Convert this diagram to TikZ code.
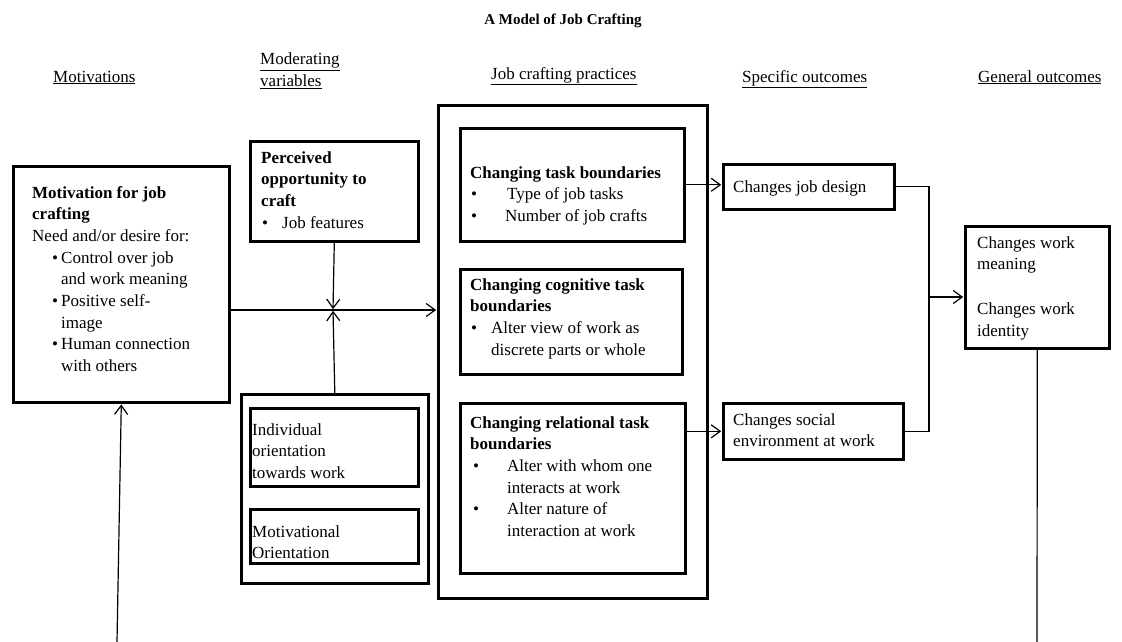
\documentclass[tikz,border=0pt]{standalone}
\usepackage{fontspec}
\setmainfont{Liberation Serif}
\usetikzlibrary{arrows.meta}
% bullet at offset #1, item text starting #2 further right
\newcommand\bul[2]{\hspace*{#1pt}\makebox[#2pt][l]{\textbullet}}
\newcommand\blk[1]{\parbox[t]{320pt}{\raggedright #1}}
\begin{document}
\begin{tikzpicture}[x=1pt,y=-1pt,
  every node/.style={font=\fontsize{17}{21.7}\selectfont},
  box/.style={draw, line width=2.6pt, anchor=north west, inner sep=0pt},
  txt/.style={anchor=base west, inner sep=0pt},
  link/.style={line width=1.2pt},
  arr/.style={link, shorten >=0.8pt, -{Straight Barb[length=9pt,width=13pt]}}]
\useasboundingbox (0,0) rectangle (1122,642);

% title and column headings
\node[anchor=base, inner sep=0pt, font=\fontsize{15}{18}\selectfont\bfseries] (title) at (563,25) {A Model of Job Crafting};
\node[txt] (h1) at (53,82) {\underline{Motivations}};
\node[txt] (h2) at (260,65) {\blk{\underline{Moderating}\\\underline{variables}}};
\node[txt] (h3) at (491,79) {\underline{Job crafting practices}};
\node[txt] (h4) at (742,82) {\underline{Specific outcomes}};
\node[txt] (h5) at (978,82) {\underline{General outcomes}};

% boxes
\node[box, minimum width=216pt, minimum height=236pt] (mot) at (12,165) {};
\node[box, minimum width=168pt, minimum height=100pt] (perc) at (249,140) {};
\node[box, minimum width=187pt, minimum height=189pt] (mod) at (240,393) {};
\node[box, minimum width=168pt, minimum height=78pt] (ind) at (249,407) {};
\node[box, minimum width=168pt, minimum height=54pt] (mtv) at (249,508) {};
\node[box, minimum width=269pt, minimum height=493pt] (jc) at (437,104) {};
\node[box, minimum width=224pt, minimum height=113pt] (task) at (459,127) {};
\node[box, minimum width=222pt, minimum height=105pt] (cog) at (459,268) {};
\node[box, minimum width=225pt, minimum height=170pt] (rel) at (459,402) {};
\node[box, minimum width=171pt, minimum height=45pt] (jd) at (722,163) {};
\node[box, minimum width=180pt, minimum height=56pt] (soc) at (722,402) {};
\node[box, minimum width=144pt, minimum height=122pt] (gen) at (964,225) {};

% box contents
\node[txt] (mot-t) at ([shift={(20,33)}]mot.north west) {\blk{%
  \textbf{Motivation for job}\\
  \textbf{crafting}\\
  Need and/or desire for:\\
  \bul{20}{9}Control over job\\
  \hspace*{29pt}and work meaning\\
  \bul{20}{9}Positive self-\\
  \hspace*{29pt}image\\
  \bul{20}{9}Human connection\\
  \hspace*{29pt}with others}};
\node[txt] (perc-t) at ([shift={(12,23)}]perc.north west) {\blk{%
  \textbf{Perceived}\\
  \textbf{opportunity to}\\
  \textbf{craft}\\
  \bul{1}{20}Job features}};
\node[txt] (ind-t) at ([shift={(3,28)}]ind.north west) {\blk{Individual\\orientation\\towards work}};
\node[txt] (mtv-t) at ([shift={(3,29)}]mtv.north west) {\blk{Motivational\\Orientation}};
\node[txt] (task-t) at ([shift={(11,51)}]task.north west) {\blk{%
  \textbf{Changing task boundaries}\\
  \bul{1}{36}Type of job tasks\\
  \bul{1}{34}Number of job crafts}};
\node[txt] (cog-t) at ([shift={(11,22)}]cog.north west) {\blk{%
  \textbf{Changing cognitive task}\\
  \textbf{boundaries}\\
  \bul{1}{20}Alter view of work as\\
  \hspace*{21pt}discrete parts or whole}};
\node[txt] (rel-t) at ([shift={(11,26)}]rel.north west) {\blk{%
  \textbf{Changing relational task}\\
  \textbf{boundaries}\\
  \bul{3}{34}Alter with whom one\\
  \hspace*{37pt}interacts at work\\
  \bul{3}{34}Alter nature of\\
  \hspace*{37pt}interaction at work}};
\node[txt] (jd-t) at ([shift={(11,29)}]jd.north west) {Changes job design};
\node[txt] (soc-t) at ([shift={(11,23)}]soc.north west) {\blk{Changes social\\environment at work}};
\node[txt] (gen-t) at ([shift={(13,23)}]gen.north west) {\blk{Changes work\\meaning\\[23pt]Changes work\\identity}};

% connectors
\coordinate (j) at (333,310);
\coordinate (m) at (929,297);
\coordinate (gend) at (1037,642);
\coordinate (fb) at (117,642);
\draw[arr] (perc.south) -- (j);
\draw[arr] (mod.north) -- (j);
\draw[arr] (mot.east |- j) -- (jc.west |- j);
\draw[arr] (task.east) -- (task.east -| jd.west);
\draw[arr] (soc.west -| rel.east) -- (soc.west);
\draw[link] (jd.east) -| (m);
\draw[link] (soc.east) -| (m);
\draw[arr] (m) -- (m -| gen.west);
\draw[link] (gen.south) -- (gend);
\draw[arr] (fb) -- (mot.south);
\end{tikzpicture}
\end{document}
